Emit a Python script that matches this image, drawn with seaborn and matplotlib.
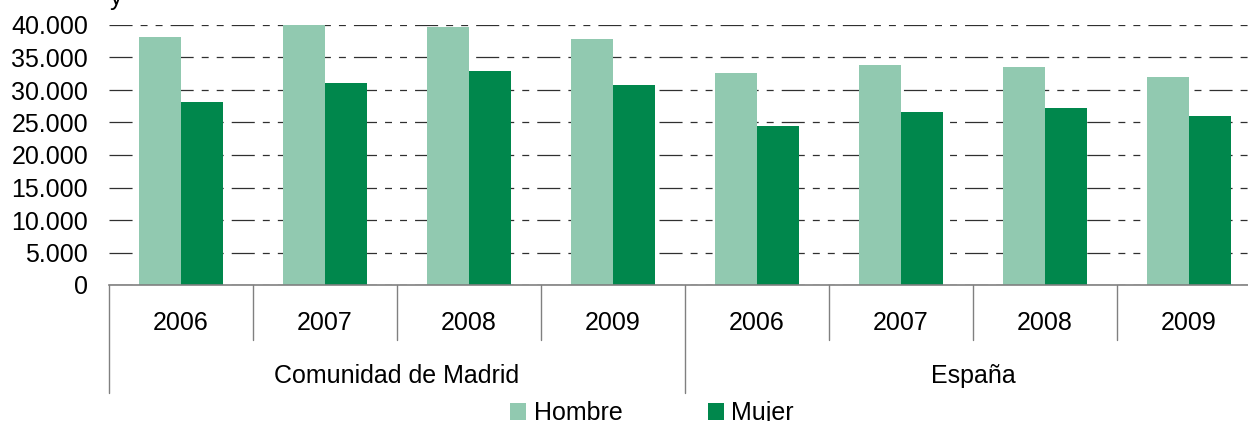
import pandas as pd
import seaborn as sns
import matplotlib.pyplot as plt
from matplotlib.patches import Patch
from matplotlib.ticker import FuncFormatter

# Data
regiones = ['Comunidad de Madrid', 'España']
anios = ['2006', '2007', '2008', '2009']
sexos = ['Hombre', 'Mujer']
hombre = [38150, 40000, 39700, 37850, 32600, 33850, 33500, 32000]
mujer = [28150, 31100, 32900, 30750, 24450, 26600, 27200, 26000]
colores = {'Hombre': '#91c9b0', 'Mujer': '#00874c'}

# Build long table
filas = []
i = 0
for reg in regiones:
    for an in anios:
        cat = reg + ' ' + an
        filas.append({'cat': cat, 'sexo': 'Hombre', 'valor': hombre[i]})
        filas.append({'cat': cat, 'sexo': 'Mujer', 'valor': mujer[i]})
        i += 1
df = pd.DataFrame(filas)
orden = [r + ' ' + a for r in regiones for a in anios]

sns.set_style('white')
plt.rcParams['font.family'] = ['Liberation Sans', 'DejaVu Sans']
plt.rcParams['text.color'] = 'black'
plt.rcParams['lines.scale_dashes'] = False

fig = plt.figure(figsize=(12.48, 4.21), dpi=100)
ax = fig.add_axes([109 / 1248, 1 - 285 / 421, 1 - 109 / 1248, 260 / 421])

sns.barplot(data=df, x='cat', y='valor', hue='sexo', order=orden, hue_order=sexos,
            palette=colores, width=0.583, gap=0, saturation=1, linewidth=0,
            ax=ax, legend=False)

ax.set_ylim(0, 40000)
ax.set_xlim(-0.5, -0.5 + 1139 / 144)
ax.set_yticks(range(0, 40001, 5000))
ax.yaxis.set_major_formatter(FuncFormatter(lambda v, p: f'{int(v):,}'.replace(',', '.')))
ax.tick_params(axis='y', length=0, pad=15, labelsize=18, labelcolor='black')
ax.set_xticks([])
ax.set_xlabel('')
ax.set_ylabel('')

ax.set_axisbelow(True)
ax.yaxis.grid(True, color='#303030', linewidth=0.9,
              linestyle=(0, (16.6, 5.8, 5, 5.8, 5, 5.8)))
for s in ['top', 'right', 'left']:
    ax.spines[s].set_visible(False)
ax.spines['bottom'].set_color('#808080')
ax.spines['bottom'].set_linewidth(1.2)

# Multi-level category axis
tr = ax.get_xaxis_transform()
for k, cat in enumerate(orden):
    ax.text(k, -0.173, anios[k % 4], transform=tr, ha='center', va='baseline', fontsize=18)
for k in range(len(orden) + 1):
    bajo = -0.415 if k % 4 == 0 else -0.212
    ax.plot([k - 0.5, k - 0.5], [0, bajo], transform=tr, color='#808080',
            linewidth=1.0, clip_on=False)
for g, reg in enumerate(regiones):
    ax.text(g * 4 + 1.5, -0.377, reg, transform=tr, ha='center', va='baseline', fontsize=18)

# Legend
handles = [Patch(facecolor=colores[s], edgecolor='none', label=s) for s in sexos]
fig.legend(handles=handles, loc='lower center', bbox_to_anchor=(652 / 1248, -0.064),
           ncol=2, frameon=False, fontsize=18, handlelength=0.65, handleheight=0.65,
           handletextpad=0.3, columnspacing=3.4)

# cut-off text at top edge, as in the source image
fig.text(110 / 1248, 1 - 5 / 421, 'y', ha='left', va='baseline', fontsize=18)

fig.savefig('out.png', dpi=100)
